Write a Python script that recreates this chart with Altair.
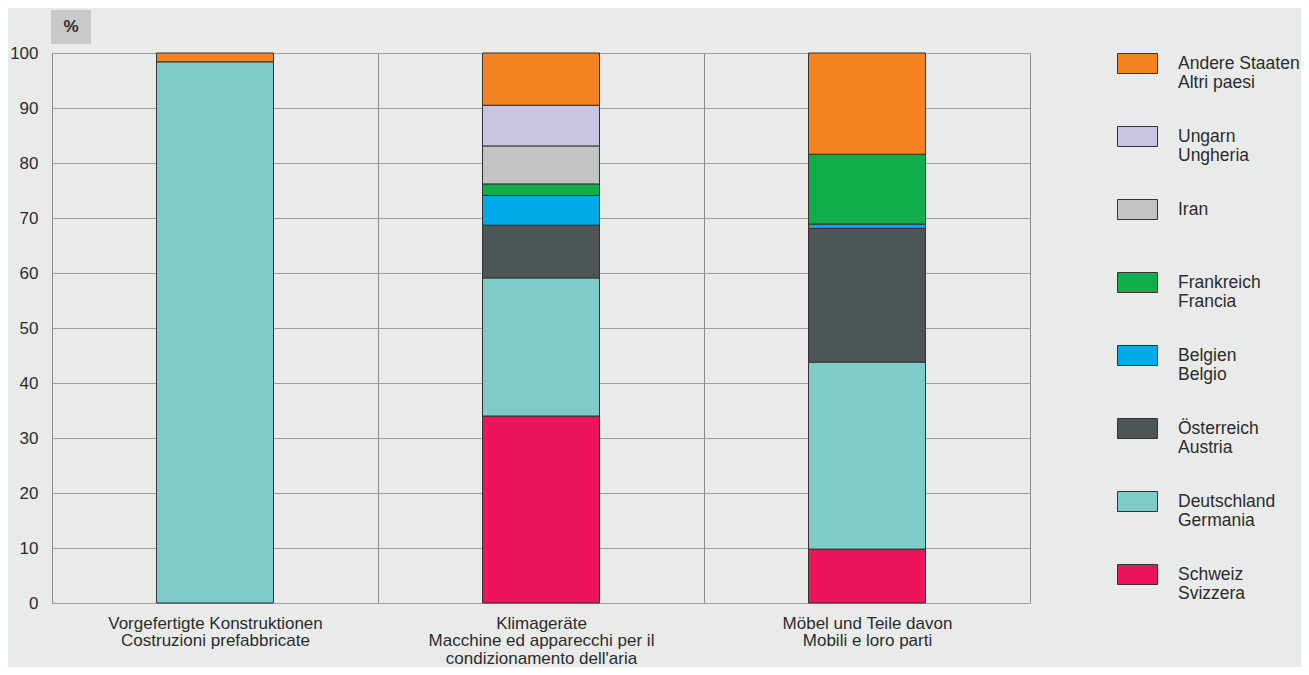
import altair as alt
import pandas as pd

categories = [
    "Vorgefertigte Konstruktionen|Costruzioni prefabbricate",
    "Klimageräte|Macchine ed apparecchi per il|condizionamento dell'aria",
    "Möbel und Teile davon|Mobili e loro parti",
]
countries = [
    "Schweiz|Svizzera",
    "Deutschland|Germania",
    "Österreich|Austria",
    "Belgien|Belgio",
    "Frankreich|Francia",
    "Iran|",
    "Ungarn|Ungheria",
    "Andere Staaten|Altri paesi",
]
colors = ["#EE145B", "#7ECCC7", "#4E5557", "#00AAE9", "#10AD4B", "#C4C4C4", "#C8C5E2", "#F58220"]

values_prefab = [0.0, 98.4, 0.0, 0.0, 0.0, 0.0, 0.0, 1.6]
values_klima = [34.0, 25.1, 9.6, 5.4, 2.1, 6.9, 7.4, 9.5]
values_moebel = [9.8, 34.0, 24.3, 0.8, 12.7, 0.0, 0.0, 18.4]

rows = []
for cat, vals in zip(categories, [values_prefab, values_klima, values_moebel]):
    for rank, (c, v) in enumerate(zip(countries, vals)):
        if v > 0:
            rows.append({"category": cat, "country": c, "value": v, "rank": rank})
df = pd.DataFrame(rows)

FONT = "Liberation Sans"

bars = alt.Chart(df).mark_bar(
    width=alt.RelativeBandSize(117 / 326), stroke="#333333", strokeWidth=1
).encode(
    x=alt.X(
        "category:N",
        sort=categories,
        scale=alt.Scale(paddingInner=0, paddingOuter=0),
        axis=alt.Axis(
            title=None,
            labelAngle=0,
            labelExpr="split(datum.label, '|')",
            tickBand="extent",
            grid=True,
            gridColor="#8a8a8a",
            gridWidth=1,
            ticks=False,
            domain=False,
            labelFontSize=17,
            labelLineHeight=17.5,
            labelPadding=12,
            labelBaseline="top",
            labelColor="#2b2b2b",
            labelLimit=400,
        ),
    ),
    y=alt.Y(
        "value:Q",
        stack="zero",
        scale=alt.Scale(domain=[0, 100], nice=False),
        axis=alt.Axis(
            title=None,
            values=list(range(0, 101, 10)),
            ticks=False,
            domain=False,
            grid=True,
            gridColor="#a0a0a0",
            gridWidth=1,
            labelFontSize=17,
            labelPadding=14,
            labelColor="#2b2b2b",
        ),
    ),
    color=alt.Color(
        "country:N",
        scale=alt.Scale(domain=list(reversed(countries)), range=list(reversed(colors))),
        legend=alt.Legend(
            title=None,
            orient="none",
            legendX=1065,
            legendY=-10,
            padding=0,
            symbolType="M-1,-0.5H1V0.5H-1Z",
            symbolSize=1600,
            symbolStrokeColor="#333333",
            symbolStrokeWidth=1,
            symbolOpacity=1,
            labelFontSize=17.5,
            labelOffset=20,
            labelExpr="split(datum.label, '|')",
            labelBaseline="middle",
            labelColor="#2b2b2b",
            labelLimit=300,
            rowPadding=24,
        ),
    ),
    order=alt.Order("rank:Q", sort="ascending"),
)

pct = pd.DataFrame({"t": ["%"]})
box = alt.Chart(pct).mark_rect(fill="#C8C9CB").encode(
    x=alt.value(-1), x2=alt.value(39), y=alt.value(-43), y2=alt.value(-9)
)
box_text = alt.Chart(pct).mark_text(
    font=FONT, fontSize=17, fontWeight="bold", color="#2b2b2b"
).encode(x=alt.value(19), y=alt.value(-26), text="t:N")

chart = alt.layer(bars, box, box_text).properties(
    width=978,
    height=550,
    autosize=alt.AutoSizeParams(type="none"),
    padding={"left": 44, "top": 45, "right": 271, "bottom": 64},
    background="#E9EBEA",
).configure_view(
    fill="white", stroke="#7a7a7a", strokeWidth=1
).configure(
    font=FONT
)

chart.save("out.html", embed_options={"renderer": "svg", "actions": False})
